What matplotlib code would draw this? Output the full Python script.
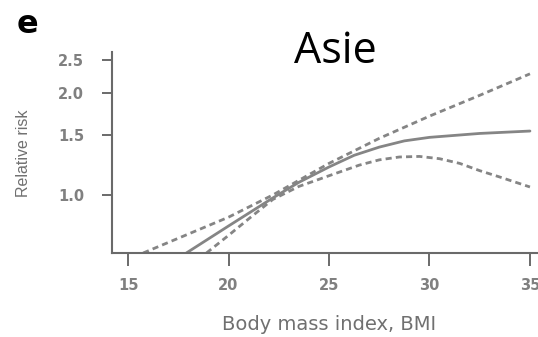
import numpy as np
import matplotlib
matplotlib.use("Agg")
import matplotlib.pyplot as plt

# values (relative risk vs BMI, log scale)
bmi_fit = [17.9, 20.0, 22.2, 23.5, 25.0, 26.25, 27.5, 28.75, 30.0, 32.5, 35.0]
rr_fit = [0.674, 0.81, 0.98, 1.09, 1.21, 1.31, 1.385, 1.445, 1.48, 1.52, 1.545]

bmi_upper = [15.75, 20.0, 22.2, 25.0, 27.5, 30.0, 32.5, 35.0]
rr_upper = [0.674, 0.86, 1.0, 1.24, 1.47, 1.71, 1.97, 2.28]

bmi_lower = [18.9, 20.0, 21.0, 22.2, 23.5, 25.0, 26.5, 27.5, 28.5, 29.5, 30.5, 31.5, 32.5, 33.5, 35.0]
rr_lower = [0.674, 0.76, 0.85, 0.97, 1.06, 1.14, 1.225, 1.27, 1.295, 1.30, 1.28, 1.24, 1.18, 1.13, 1.056]

x_ticks = [15, 20, 25, 30, 35]
y_ticks = [1.0, 1.5, 2.0, 2.5]
y_labels = ["1.0", "1.5", "2.0", "2.5"]

plt.rcParams['font.family'] = ['Liberation Sans', 'DejaVu Sans']

W, H = 538, 337
fig = plt.figure(figsize=(W / 100, H / 100), dpi=100)
# axes box in pixels: left 112, right 538, top 52, bottom 253
ax = fig.add_axes([112 / W, 1 - 253 / H, (W - 112) / W, (253 - 52) / H])

line_col = '#858585'
ax.plot(bmi_fit, rr_fit, color=line_col, linewidth=2.0, solid_capstyle='round')
ax.plot(bmi_upper, rr_upper, color=line_col, linewidth=2.0, linestyle=(0, (2.2, 1.5)))
ax.plot(bmi_lower, rr_lower, color=line_col, linewidth=2.0, linestyle=(0, (2.2, 1.5)))

ax.set_yscale('log')
ax.set_xlim(14.2, 35.4)
ax.set_ylim(0.674, 2.645)
ax.set_xticks(x_ticks)
ax.set_yticks(y_ticks)
ax.set_yticklabels(y_labels)
ax.minorticks_off()

for s in ['top', 'right']:
    ax.spines[s].set_visible(False)
for s in ['left', 'bottom']:
    ax.spines[s].set_color('#6a6a6a')
    ax.spines[s].set_linewidth(1.5)

ax.tick_params(axis='both', colors='#6a6a6a', labelcolor='#808080', labelsize=10.5,
               width=1.4, direction='out')
ax.tick_params(axis='x', length=9, pad=9)
ax.tick_params(axis='y', length=7, pad=13)
for lab in ax.get_xticklabels() + ax.get_yticklabels():
    lab.set_fontweight('bold')
    lab.set_family('DejaVu Sans')

fig.text(329 / W, 1 - 325 / H, 'Body mass index, BMI', fontsize=14, color='#707070',
         family='DejaVu Sans', ha='center', va='center')
fig.text(24 / W, 1 - 153 / H, 'Relative risk', fontsize=11.5, color='#707070',
         rotation=90, ha='center', va='center')

fig.text(17 / W, 1 - 33 / H, 'e', fontsize=23, fontweight='bold', color='black',
         family='DejaVu Sans', va='baseline', ha='left')
fig.text(294 / W, 1 - 63 / H, 'Asie', fontsize=31, color='black', family='Open Sans',
         va='baseline', ha='left')

fig.savefig('out.png', dpi=100)
